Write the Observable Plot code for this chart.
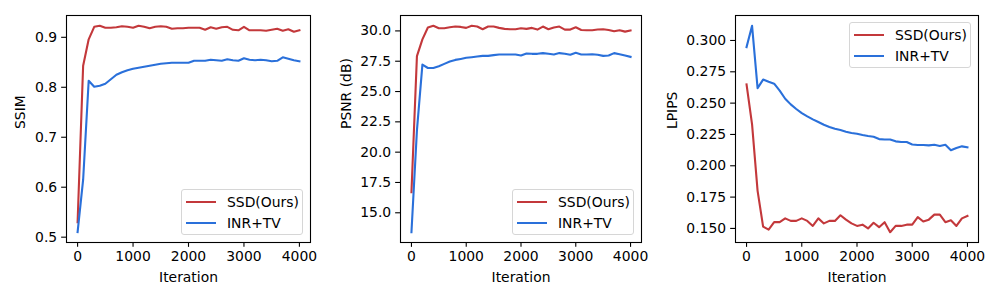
<!DOCTYPE html>
<html><head><meta charset="utf-8">
<script src="https://cdn.jsdelivr.net/npm/d3@7"></script>
<script src="https://cdn.jsdelivr.net/npm/@observablehq/plot@0.6"></script>
<style>
body{margin:0;background:#fff}
#wrap{position:relative;width:1000px;height:300px;overflow:hidden;font-family:"DejaVu Sans",sans-serif;background:#fff}
.panel{position:absolute;top:0}
.legend{position:absolute;box-sizing:border-box;border:1px solid #d6d6d6;border-radius:3px;background:rgba(255,255,255,0.8);font-size:13.9px;color:#000}
.legend .sw{position:absolute;height:2px}
.legend .lab{position:absolute;line-height:16px;white-space:nowrap}
</style>
</head><body><div id="wrap"></div>
<script>
const iterations = [0,100,200,300,400,500,600,700,800,900,1000,1100,1200,1300,1400,1500,1600,1700,1800,1900,2000,2100,2200,2300,2400,2500,2600,2700,2800,2900,3000,3100,3200,3300,3400,3500,3600,3700,3800,3900,4000];
const seriesNames = ["SSD(Ours)", "INR+TV"];
const seriesColors = ["#c3383b", "#2a70da"];
const xTicks = [0, 1000, 2000, 3000, 4000];

const ssimSSD = [0.530,0.843,0.896,0.921,0.923,0.919,0.919,0.920,0.922,0.921,0.919,0.923,0.921,0.918,0.921,0.922,0.921,0.917,0.918,0.918,0.919,0.919,0.919,0.915,0.920,0.917,0.920,0.921,0.915,0.914,0.921,0.914,0.914,0.914,0.913,0.915,0.917,0.913,0.916,0.911,0.914];
const ssimINR = [0.510,0.615,0.813,0.801,0.803,0.807,0.816,0.825,0.830,0.834,0.837,0.839,0.841,0.843,0.845,0.847,0.848,0.849,0.849,0.849,0.849,0.853,0.853,0.853,0.855,0.854,0.853,0.856,0.854,0.853,0.858,0.855,0.854,0.855,0.854,0.852,0.853,0.860,0.857,0.854,0.852];
const ssimTicks = [0.5, 0.6, 0.7, 0.8, 0.9];

const psnrSSD = [16.7,27.92,29.3,30.28,30.42,30.22,30.22,30.30,30.36,30.33,30.25,30.42,30.36,30.14,30.36,30.36,30.25,30.17,30.14,30.14,30.22,30.17,30.25,30.11,30.36,30.14,30.28,30.36,30.11,30.11,30.30,30.08,30.06,30.06,30.11,30.14,30.08,29.97,30.06,29.94,30.03];
const psnrINR = [13.4,21.8,27.22,26.94,26.94,27.08,27.28,27.47,27.61,27.69,27.78,27.83,27.89,27.94,27.94,28.0,28.06,28.06,28.06,28.06,27.97,28.14,28.11,28.11,28.17,28.11,28.06,28.17,28.11,28.03,28.19,28.06,28.06,28.08,28.03,27.94,27.97,28.17,28.08,27.97,27.86];
const psnrTicks = [15.0, 17.5, 20.0, 22.5, 25.0, 27.5, 30.0];

const lpipsSSD = [0.265,0.233,0.180,0.1515,0.149,0.155,0.155,0.158,0.156,0.156,0.158,0.156,0.152,0.158,0.154,0.156,0.156,0.1605,0.157,0.154,0.152,0.153,0.150,0.1545,0.151,0.155,0.147,0.152,0.152,0.153,0.153,0.159,0.1555,0.157,0.161,0.161,0.155,0.1565,0.152,0.158,0.160];
const lpipsINR = [0.2947,0.3117,0.262,0.2688,0.267,0.2655,0.260,0.2535,0.249,0.2453,0.242,0.2394,0.237,0.2349,0.2327,0.231,0.2295,0.2285,0.2272,0.2262,0.2255,0.2245,0.2237,0.2231,0.2213,0.221,0.221,0.2195,0.219,0.219,0.217,0.2166,0.2166,0.2163,0.2168,0.2158,0.2168,0.2124,0.2142,0.2155,0.2147];
const lpipsTicks = [0.150, 0.175, 0.200, 0.225, 0.250, 0.275, 0.300];

const panels = [
  {left: 0, width: 333, mL: 66, mR: 23, ylabel: "SSIM", labDx: -45.6, a: ssimSSD, b: ssimINR, ticks: ssimTicks, fmt: ".1f", legend: {left: 181, top: 189}},
  {left: 333, width: 333, mL: 67, mR: 25, ylabel: "PSNR (dB)", labDx: -54, a: psnrSSD, b: psnrINR, ticks: psnrTicks, fmt: ".1f", legend: {left: 512, top: 189}},
  {left: 667, width: 333, mL: 68, mR: 22, ylabel: "LPIPS", labDx: -63, a: lpipsSSD, b: lpipsINR, ticks: lpipsTicks, fmt: ".3f", legend: {left: 849, top: 22}}
];

const wrap = document.getElementById("wrap");
const TK = 4.86;

for (const p of panels) {
  const rows = [];
  iterations.forEach((it, i) => {
    rows.push({it, v: p.a[i], s: seriesNames[0]});
    rows.push({it, v: p.b[i], s: seriesNames[1]});
  });
  const ext = d3.extent(rows, d => d.v);
  const pad = (ext[1] - ext[0]) * 0.05;
  const chart = Plot.plot({
    width: p.width, height: 300,
    marginLeft: p.mL, marginRight: p.mR, marginTop: 15, marginBottom: 58,
    style: {fontFamily: "DejaVu Sans", fontSize: "13.9px", color: "#000", background: "transparent", overflow: "visible"},
    x: {domain: [-200, 4200]},
    y: {domain: [ext[0] - pad, ext[1] + pad]},
    color: {domain: seriesNames, range: seriesColors},
    marks: [
      Plot.line(rows, {x: "it", y: "v", z: "s", stroke: "s", strokeWidth: 2.1, strokeLinejoin: "round", strokeLinecap: "square"}),
      Plot.frame({stroke: "#000", strokeWidth: 1.1}),
      Plot.axisX({ticks: xTicks, tickSize: TK, tickPadding: 3.5, tickFormat: d3.format("d"), label: null, strokeWidth: 1.1, fontSize: 13.9}),
      Plot.axisY({ticks: p.ticks, tickSize: TK, tickPadding: 4.5, tickFormat: d3.format(p.fmt), label: null, strokeWidth: 1.1, fontSize: 13.9}),
      Plot.text(["Iteration"], {frameAnchor: "bottom", dy: 34.7, lineAnchor: "middle", fontSize: 13.9, fill: "#000"}),
      Plot.text([p.ylabel], {frameAnchor: "left", dx: p.labDx, rotate: -90, lineAnchor: "middle", fontSize: 13.9, fill: "#000"})
    ]
  });
  chart.classList.add("panel");
  chart.style.left = p.left + "px";
  wrap.appendChild(chart);

  const lg = document.createElement("div");
  lg.className = "legend";
  lg.style.left = p.legend.left + "px";
  lg.style.top = p.legend.top + "px";
  lg.style.width = "122px";
  lg.style.height = "46px";
  seriesNames.forEach((name, i) => {
    const sw = document.createElement("div");
    sw.className = "sw";
    sw.style.left = "4px";
    sw.style.width = "30px";
    sw.style.top = (10.7 + 21 * i) + "px";
    sw.style.background = seriesColors[i];
    lg.appendChild(sw);
    const lab = document.createElement("div");
    lab.className = "lab";
    lab.style.left = "45px";
    lab.style.top = (3.5 + 21 * i) + "px";
    lab.textContent = name;
    lg.appendChild(lab);
  });
  wrap.appendChild(lg);
}
</script>
</body></html>
